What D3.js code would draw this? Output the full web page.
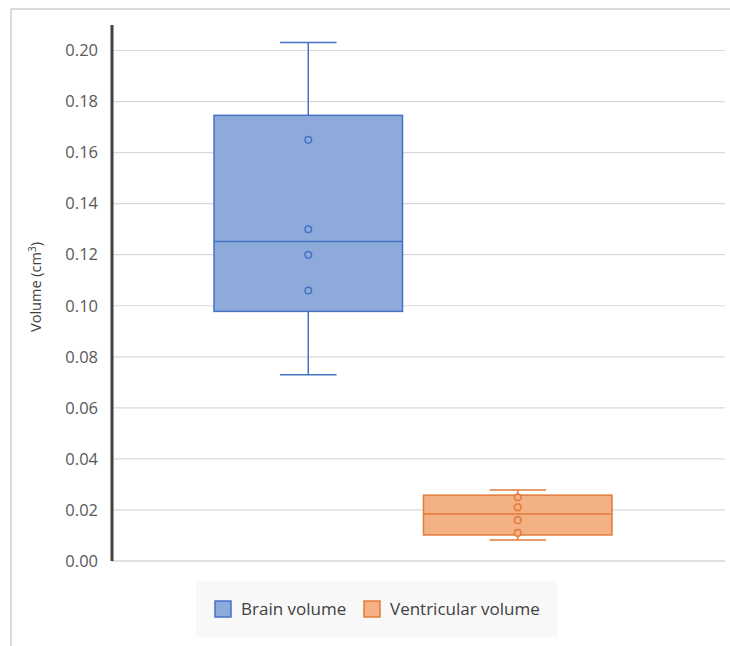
<!DOCTYPE html>
<html lang="en">
<head>
  <meta charset="UTF-8" />
  <title>Brain and ventricular volume</title>
  <script src="https://d3js.org/d3.v7.min.js"></script>
  <style>
    body {
      margin: 0;
      background: #fff;
      font-family: "Open Sans", "Noto Sans", sans-serif;
    }
    .tick-label {
      font-size: 16.5px;
      fill: #595959;
    }
    .axis-label {
      font-size: 14.5px;
      fill: #404040;
    }
    .legend text {
      font-size: 17px;
      fill: #404040;
    }
  </style>
</head>
<body>
  <svg id="chart"></svg>

  <script>
    // box plot data (cm³)
    const series   = ["Brain volume", "Ventricular volume"];
    const mins     = [0.073, 0.0082];
    const q1s      = [0.0978, 0.0102];
    const medians  = [0.1252, 0.0184];
    const q3s      = [0.1746, 0.0258];
    const maxs     = [0.2031, 0.0278];
    const points   = [
      [0.165, 0.130, 0.120, 0.106],
      [0.025, 0.021, 0.016, 0.011]
    ];
    const yTicks   = [0, 0.02, 0.04, 0.06, 0.08, 0.10, 0.12, 0.14, 0.16, 0.18, 0.20];

    const fills   = ["#8eaadb", "#f4b183"];
    const strokes = ["#4472c4", "#e27b3a"];

    const W = 730, H = 646;
    const plot = { left: 112, top: 25, right: 725, bottom: 561 };

    const svg = d3.select("#chart")
                  .attr("width", W)
                  .attr("height", H);

    // outer frame (cropped at right/bottom)
    svg.append("rect")
       .attr("x", 11)
       .attr("y", 9)
       .attr("width", 760)
       .attr("height", 700)
       .attr("fill", "none")
       .attr("stroke", "#cfcfcf")
       .attr("stroke-width", 1.5);

    const y = d3.scaleLinear()
                .domain([0, 0.21])
                .range([plot.bottom, plot.top]);

    const x = d3.scaleBand()
                .domain(series)
                .range([214, 612])
                .paddingInner(0.1);

    // gridlines
    svg.append("g")
       .selectAll("line")
       .data(yTicks)
       .join("line")
         .attr("x1", plot.left)
         .attr("x2", plot.right)
         .attr("y1", d => y(d))
         .attr("y2", d => y(d))
         .attr("stroke", d => d === 0 ? "#bfbfbf" : "#d9d9d9")
         .attr("stroke-width", 1.2);

    // y axis
    const yAxis = svg.append("g")
                     .attr("transform", `translate(${plot.left},0)`)
                     .call(d3.axisLeft(y)
                             .tickValues(yTicks)
                             .tickFormat(d3.format(".2f"))
                             .tickSize(0)
                             .tickPadding(14));
    yAxis.attr("font-size", null).attr("font-family", null);
    yAxis.select(".domain").remove();
    yAxis.selectAll("text")
         .attr("class", "tick-label");

    svg.append("line")
       .attr("x1", plot.left)
       .attr("x2", plot.left)
       .attr("y1", plot.top)
       .attr("y2", plot.bottom)
       .attr("stroke", "#404040")
       .attr("stroke-width", 3);

    svg.append("text")
       .attr("class", "axis-label")
       .attr("transform", "rotate(-90)")
       .attr("x", -287)
       .attr("y", 41)
       .attr("text-anchor", "middle")
       .html('Volume (cm<tspan dy="-5" font-size="10">3</tspan><tspan dy="5">)</tspan>');

    // boxes
    series.forEach((s, i) => {
      const g = svg.append("g");
      const bx = x(s), bw = x.bandwidth(), cx = bx + bw / 2;
      const capW = bw * 0.3;

      // whiskers
      g.append("line")
       .attr("x1", cx).attr("x2", cx)
       .attr("y1", y(q3s[i])).attr("y2", y(maxs[i]))
       .attr("stroke", strokes[i]).attr("stroke-width", 1.5);
      g.append("line")
       .attr("x1", cx).attr("x2", cx)
       .attr("y1", y(q1s[i])).attr("y2", y(mins[i]))
       .attr("stroke", strokes[i]).attr("stroke-width", 1.5);
      [maxs[i], mins[i]].forEach(v => {
        g.append("line")
         .attr("x1", cx - capW / 2).attr("x2", cx + capW / 2)
         .attr("y1", y(v)).attr("y2", y(v))
         .attr("stroke", strokes[i]).attr("stroke-width", 1.5);
      });

      g.append("rect")
       .attr("x", bx)
       .attr("y", y(q3s[i]))
       .attr("width", bw)
       .attr("height", y(q1s[i]) - y(q3s[i]))
       .attr("fill", fills[i])
       .attr("stroke", strokes[i])
       .attr("stroke-width", 1.5);

      g.append("line")
       .attr("x1", bx).attr("x2", bx + bw)
       .attr("y1", y(medians[i])).attr("y2", y(medians[i]))
       .attr("stroke", strokes[i]).attr("stroke-width", 1.5);

      g.selectAll("circle")
       .data(points[i])
       .join("circle")
         .attr("cx", cx)
         .attr("cy", d => y(d))
         .attr("r", 3.3)
         .attr("fill", fills[i])
         .attr("stroke", strokes[i])
         .attr("stroke-width", 1.5);
    });

    // legend
    const legend = svg.append("g").attr("class", "legend");
    legend.append("rect")
          .attr("x", 196)
          .attr("y", 581)
          .attr("width", 361)
          .attr("height", 56)
          .attr("fill", "#f8f8f8");

    const legendX = [215, 364];
    series.forEach((s, i) => {
      legend.append("rect")
            .attr("x", legendX[i])
            .attr("y", 601)
            .attr("width", 16)
            .attr("height", 16)
            .attr("fill", fills[i])
            .attr("stroke", strokes[i])
            .attr("stroke-width", 1.5);
      legend.append("text")
            .attr("x", legendX[i] + 26)
            .attr("y", 615)
            .text(s);
    });
  </script>
</body>
</html>
